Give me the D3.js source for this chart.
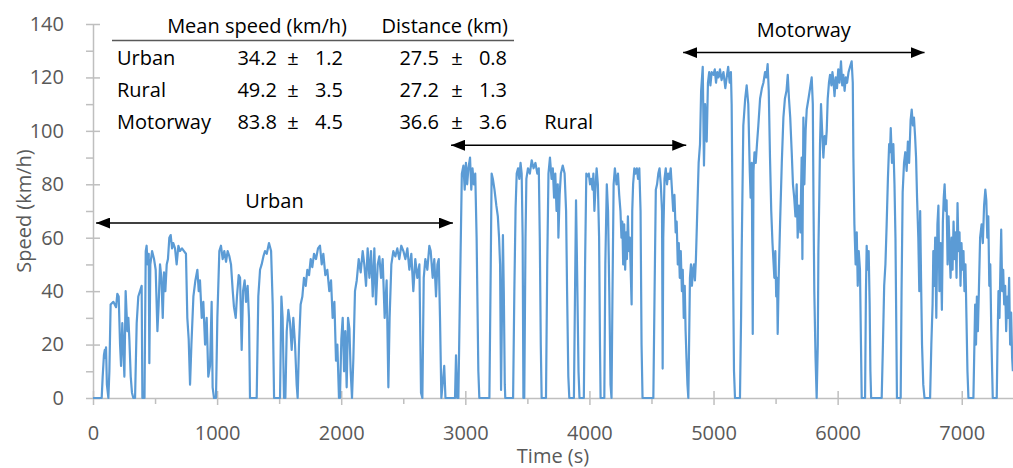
<!DOCTYPE html>
<html>
<head>
<meta charset="utf-8">
<script src="https://cdn.jsdelivr.net/npm/d3@7"></script>
<style>
  body { margin: 0; background: #fff; }
  text { font-family: "Open Sans", Lato, sans-serif; }
</style>
</head>
<body>
<div id="chart"></div>
<script>
// speed trace, [time (s), speed (km/h)]
const urbanTrace = [
  [0,0],[70,0],[78,8],[88,16],[95,18],[100,15],[105,19],[112,5],[124,0],
  [132,10],[142,35],[164,36],[186,34],[196,39],[207,38],[218,20],[226,12],[236,28],[245,18],[253,8],[263,40],[277,25],[285,30],[293,22],[304,8],[314,2],[325,0],
  [339,0],[352,28],[365,38],[379,40],[392,42],[398,0],[415,0],[425,55],[432,57],[440,50],[449,54],[454,13],[462,50],[476,55],[492,52],[505,48],[519,25],[529,35],[540,50],[551,45],[562,30],[572,47],[583,40],[594,50],[604,52],[615,60],[626,61],[637,56],[647,58],[661,56],[674,50],[688,57],[701,55],[717,56],[733,55],[749,54],[760,30],[771,22],[782,5],[793,20],[809,38],[825,44],[841,48],[852,40],[862,44],[876,30],[889,36],[903,20],[916,30],[929,8],[943,12],[956,36],[964,4],[975,0],[991,0],
  [1002,30],[1018,55],[1031,57],[1045,52],[1058,55],[1072,51],[1085,55],[1099,53],[1112,50],[1126,40],[1136,34],[1150,30],[1160,38],[1174,46],[1185,45],[1198,18],[1209,40],[1222,44],[1233,36],[1246,42],[1257,30],[1265,0],[1319,0],
  [1332,38],[1346,48],[1359,50],[1373,53],[1386,55],[1400,54],[1418,58],[1435,55],[1448,35],[1459,0],[1507,0],[1518,38],[1528,30],[1539,0],[1550,0],[1561,25],[1574,33],[1588,28],[1601,18],[1614,30],[1628,20],[1641,5],[1649,0],
  [1660,20],[1673,35],[1687,38],[1700,45],[1714,42],[1727,48],[1741,46],[1754,52],[1767,49],[1781,54],[1797,52],[1813,56],[1829,57],[1843,50],[1856,54],[1872,46],[1888,48],[1904,40],[1918,44],[1931,30],[1945,36],[1958,14],[1969,20],[1982,0],[1990,0],
  [2001,22],[2012,30],[2023,10],[2033,25],[2044,4],[2055,30],[2066,26],[2076,10],[2087,0],[2098,15],[2111,40],[2125,44],[2141,52],[2157,47],[2173,55],[2186,50],[2200,42],[2213,56],[2227,45],[2240,55],[2254,38],[2267,56],[2280,35],[2294,50],[2307,53],[2321,45],[2334,52],[2350,30],[2366,44],[2380,4],
  [2390,30],[2404,50],[2420,55],[2436,53],[2452,56],[2468,52],[2484,57],[2501,55],[2517,52],[2533,56],[2549,48],[2565,54],[2581,40],[2597,52],[2613,45],[2630,50],[2643,2],[2654,0],
  [2665,45],[2678,52],[2694,48],[2710,57],[2721,55],[2737,45],[2750,52],[2764,38],[2775,50],[2786,52],[2796,30],[2807,0],[2830,12],[2840,0],[2917,0],[2925,16],[2935,0],[2944,0]
];
const ruralTrace = [
  [2957,40],[2972,84],[2985,87],[2995,78],[3005,88],[3015,80],[3025,86],[3038,90],[3048,78],[3058,86],[3068,80],[3080,84],[3091,60],[3105,10],[3113,0],[3194,0],
  [3205,50],[3212,84],[3222,82],[3235,78],[3250,72],[3262,68],[3272,60],[3280,50],[3285,20],[3288,3],[3295,30],[3303,61],[3310,40],[3318,5],[3322,0],[3385,0],
  [3395,40],[3405,71],[3414,84],[3425,86],[3435,82],[3445,88],[3454,84],[3462,60],[3468,0],[3475,0],[3485,60],[3492,82],[3505,86],[3520,84],[3535,89],[3550,86],[3565,88],[3580,84],[3592,86],[3600,60],[3608,20],[3615,0],[3650,0],
  [3660,50],[3670,84],[3682,90],[3695,82],[3705,86],[3715,75],[3725,84],[3735,70],[3745,80],[3750,60],[3760,76],[3770,84],[3785,87],[3800,84],[3812,70],[3820,40],[3830,8],[3838,0],[3875,0],
  [3884,40],[3892,74],[3900,50],[3912,10],[3920,0],[3955,0],[3965,50],[3975,84],[3985,83],[3995,84],[4005,80],[4015,82],[4025,78],[4032,84],[4040,70],[4048,78],[4058,86],[4068,80],[4078,60],[4085,20],[4090,0],[4120,0],
  [4128,50],[4140,80],[4150,70],[4160,40],[4170,5],[4178,0],[4186,40],[4195,80],[4205,86],[4218,80],[4230,84],[4240,76],[4250,70],[4258,60],[4265,66],[4272,50],[4280,65],[4288,48],[4295,62],[4302,52],[4310,68],[4318,55],[4326,60],[4334,45],[4340,35],[4345,70],[4352,80],[4362,86],[4372,84],[4382,86],[4392,82],[4402,86],[4412,70],[4420,20],[4428,0],[4515,0],
  [4525,40],[4535,78],[4545,80],[4555,84],[4565,86],[4575,80],[4585,70],[4590,11],[4595,60],[4605,82],[4615,86],[4625,80],[4635,84],[4645,82],[4655,86],[4665,78],[4675,70],[4685,76],[4695,62],[4703,66],[4712,50],[4720,58],[4728,45],[4736,55],[4745,40],[4752,48],[4760,30],[4768,42],[4775,25],[4782,15],[4790,5],[4797,0],
  [4803,20],[4810,45],[4818,50],[4826,42],[4834,48],[4842,50],[4850,44],[4858,52]
];
const motorwayTrace = [
  [4866,65],[4880,88],[4891,95],[4900,115],[4913,124],[4923,87],[4932,110],[4945,96],[4955,118],[4965,122],[4975,117],[4985,122],[4999,121],[5010,123],[5020,118],[5030,122],[5040,120],[5052,123],[5065,119],[5080,122],[5095,116],[5106,120],[5118,124],[5130,118],[5140,122],[5146,110],[5155,60],[5165,10],[5173,0],[5213,0],
  [5222,30],[5227,55],[5240,102],[5255,112],[5267,117],[5280,110],[5292,85],[5299,75],[5308,88],[5316,24],[5322,85],[5330,92],[5340,88],[5350,95],[5361,102],[5375,112],[5390,116],[5402,118],[5415,122],[5425,120],[5436,125],[5445,115],[5455,90],[5465,70],[5475,58],[5482,52],[5490,45],[5498,55],[5505,38],[5512,45],[5517,24],[5525,45],
  [5536,65],[5550,88],[5563,105],[5575,112],[5588,115],[5598,121],[5608,112],[5618,105],[5630,92],[5640,80],[5650,75],[5660,68],[5670,80],[5678,60],[5688,72],[5700,62],[5710,90],[5716,52],[5724,105],[5732,80],[5742,100],[5751,108],[5765,112],[5778,116],[5791,120],[5800,110],[5806,70],[5812,40],[5822,15],[5831,0],
  [5840,20],[5845,55],[5852,75],[5858,95],[5866,110],[5875,100],[5885,90],[5895,98],[5905,95],[5912,100],[5920,112],[5930,118],[5939,121],[5950,117],[5958,122],[5966,119],[5975,113],[5985,120],[5995,116],[6005,123],[6015,118],[6027,126],[6037,117],[6046,121],[6056,115],[6066,120],[6076,118],[6088,122],[6100,124],[6113,126],[6122,118],
  [6127,90],[6135,65],[6145,50],[6154,62],[6162,42],[6170,55],[6180,48],[6188,20],[6194,0],[6221,0],[6228,40],[6234,57],[6242,48],[6250,55],[6258,35],[6264,10],[6270,0],[6355,0],
  [6365,20],[6375,42],[6385,50],[6395,65],[6405,82],[6415,95],[6422,92],[6428,101],[6438,88],[6449,95],[6458,80],[6466,60],[6472,30],[6478,0],[6508,0],
  [6515,40],[6524,77],[6535,88],[6545,92],[6556,85],[6566,96],[6576,88],[6588,104],[6597,108],[6606,102],[6615,105],[6624,98],[6632,90],[6640,75],[6650,60],[6658,40],[6665,70],[6672,45],[6680,20],[6690,5],[6700,0],[6745,0],
  [6755,20],[6765,35],[6771,55],[6778,42],[6786,60],[6795,30],[6804,65],[6812,72],[6820,40],[6830,58],[6840,33],[6848,66],[6855,75],[6862,80],[6870,70],[6878,74],[6886,50],[6894,68],[6902,55],[6910,45],[6918,60],[6926,48],[6934,66],[6942,52],[6950,62],[6958,45],[6966,73],[6974,55],[6982,62],[6990,42],[6998,58],[7006,48],[7014,55],[7022,40],[7030,50],[7038,30],[7046,10],[7054,0],[7094,0],
  [7100,15],[7108,35],[7115,20],[7122,38],[7130,25],[7138,40],[7148,60],[7160,65],[7170,58],[7180,72],[7190,78],[7198,74],[7206,60],[7214,68],[7222,42],[7230,50],[7238,25],[7245,10],[7250,0],[7282,0],
  [7288,20],[7296,40],[7304,30],[7312,50],[7318,63],[7326,40],[7334,48],[7342,35],[7350,42],[7358,25],[7366,38],[7374,30],[7382,45],[7390,20],[7398,32],[7406,15],[7412,10]
];

const xTicks = [0, 1000, 2000, 3000, 4000, 5000, 6000, 7000];
const yTicks = [0, 20, 40, 60, 80, 100, 120, 140];

// summary table
const phases = ["Urban", "Rural", "Motorway"];
const meanSpeed = ["34.2", "49.2", "83.8"];
const meanSpeedSd = ["1.2", "3.5", "4.5"];
const distance = ["27.5", "27.2", "36.6"];
const distanceSd = ["0.8", "1.3", "3.6"];

// phase arrows: start / end time (s)
const phaseStart = [25, 2885, 4755];
const phaseEnd = [2900, 4780, 6700];

const width = 1013, height = 468;
const fontSize = "20px";
const axisColor = "#bfbfbf", labelColor = "#595959", lineColor = "#5b9bd5";

const svg = d3.select("#chart").append("svg")
  .attr("width", width)
  .attr("height", height);

const x = d3.scaleLinear().domain([0, 7413]).range([93, 1013]);
const y = d3.scaleLinear().domain([0, 140]).range([398, 24]);

// minor ticks
svg.append("g")
  .attr("transform", "translate(0,398)")
  .call(d3.axisBottom(x).tickValues(d3.range(500, 7413, 1000)).tickSize(6).tickFormat(""))
  .call(g => g.select(".domain").remove())
  .call(g => g.selectAll("line").attr("stroke", axisColor).attr("stroke-width", 1.5));
svg.append("g")
  .attr("transform", "translate(93,0)")
  .call(d3.axisLeft(y).tickValues(d3.range(10, 140, 20)).tickSize(7).tickFormat(""))
  .call(g => g.select(".domain").remove())
  .call(g => g.selectAll("line").attr("stroke", axisColor).attr("stroke-width", 1.5));

// x axis
const xAxis = svg.append("g")
  .attr("transform", "translate(0,398)")
  .call(d3.axisBottom(x).tickValues(xTicks).tickFormat(d3.format("d")).tickSizeOuter(0).tickPadding(22));
xAxis.select(".domain").attr("stroke", axisColor).attr("stroke-width", 1.5);
xAxis.selectAll(".tick line").attr("y1", -7).attr("y2", 7).attr("stroke", axisColor).attr("stroke-width", 1.5);
xAxis.selectAll(".tick text").attr("fill", labelColor).style("font-size", fontSize);

// y axis
const yAxis = svg.append("g")
  .attr("transform", "translate(93,0)")
  .call(d3.axisLeft(y).tickValues(yTicks).tickSizeOuter(0).tickPadding(23));
yAxis.select(".domain").attr("stroke", axisColor).attr("stroke-width", 1.5);
yAxis.selectAll(".tick line").attr("x1", -7).attr("x2", 7).attr("stroke", axisColor).attr("stroke-width", 1.5);
yAxis.selectAll(".tick text").attr("fill", labelColor).style("font-size", fontSize);

// axis titles
svg.append("text")
  .attr("x", 553).attr("y", 463)
  .attr("text-anchor", "middle")
  .attr("fill", labelColor)
  .style("font-size", fontSize)
  .text("Time (s)");
svg.append("text")
  .attr("transform", "translate(31,211) rotate(-90)")
  .attr("text-anchor", "middle")
  .attr("fill", labelColor)
  .style("font-size", fontSize)
  .text("Speed (km/h)");

// speed trace
const line = d3.line().x(d => x(d[0])).y(d => y(d[1]));
svg.append("path")
  .datum(urbanTrace.concat(ruralTrace, motorwayTrace))
  .attr("fill", "none")
  .attr("stroke", lineColor)
  .attr("stroke-width", 2.2)
  .attr("stroke-linejoin", "round")
  .attr("d", line);

// phase arrows
const defs = svg.append("defs");
defs.append("marker")
  .attr("id", "arrowEnd")
  .attr("viewBox", "0 0 14 11")
  .attr("refX", 14).attr("refY", 5.5)
  .attr("markerWidth", 14).attr("markerHeight", 11)
  .attr("markerUnits", "userSpaceOnUse")
  .attr("orient", "auto-start-reverse")
  .append("path").attr("d", "M0,0L14,5.5L0,11Z").attr("fill", "#000");

const arrowLevel = [65.5, 94.6, 129.3];
const arrowLabelLevel = [71.2, 100.7, 135.2];
phases.forEach((p, i) => {
  svg.append("line")
    .attr("x1", x(phaseStart[i])).attr("x2", x(phaseEnd[i]))
    .attr("y1", y(arrowLevel[i])).attr("y2", y(arrowLevel[i]))
    .attr("stroke", "#000").attr("stroke-width", 1.5)
    .attr("marker-start", "url(#arrowEnd)")
    .attr("marker-end", "url(#arrowEnd)");
  svg.append("text")
    .attr("x", x((phaseStart[i] + phaseEnd[i]) / 2))
    .attr("y", y(arrowLabelLevel[i]))
    .attr("text-anchor", "middle")
    .attr("fill", "#000")
    .style("font-size", fontSize)
    .text(p);
});

// table
const table = svg.append("g").style("font-size", fontSize).attr("fill", "#000");
table.append("text").attr("x", 347).attr("y", 33).attr("text-anchor", "end").text("Mean speed (km/h)");
table.append("text").attr("x", 508).attr("y", 33).attr("text-anchor", "end").text("Distance (km)");
table.append("line")
  .attr("x1", 112).attr("x2", 514).attr("y1", 40.5).attr("y2", 40.5)
  .attr("stroke", "#595959").attr("stroke-width", 1.5);
phases.forEach((p, i) => {
  const yy = 65 + i * 32;
  table.append("text").attr("x", 117).attr("y", yy).text(p);
  table.append("text").attr("x", 277).attr("y", yy).attr("text-anchor", "end").text(meanSpeed[i]);
  table.append("text").attr("x", 293).attr("y", yy).attr("text-anchor", "middle").text("\u00b1");
  table.append("text").attr("x", 343).attr("y", yy).attr("text-anchor", "end").text(meanSpeedSd[i]);
  table.append("text").attr("x", 439).attr("y", yy).attr("text-anchor", "end").text(distance[i]);
  table.append("text").attr("x", 457).attr("y", yy).attr("text-anchor", "middle").text("\u00b1");
  table.append("text").attr("x", 507).attr("y", yy).attr("text-anchor", "end").text(distanceSd[i]);
});
</script>
</body>
</html>
